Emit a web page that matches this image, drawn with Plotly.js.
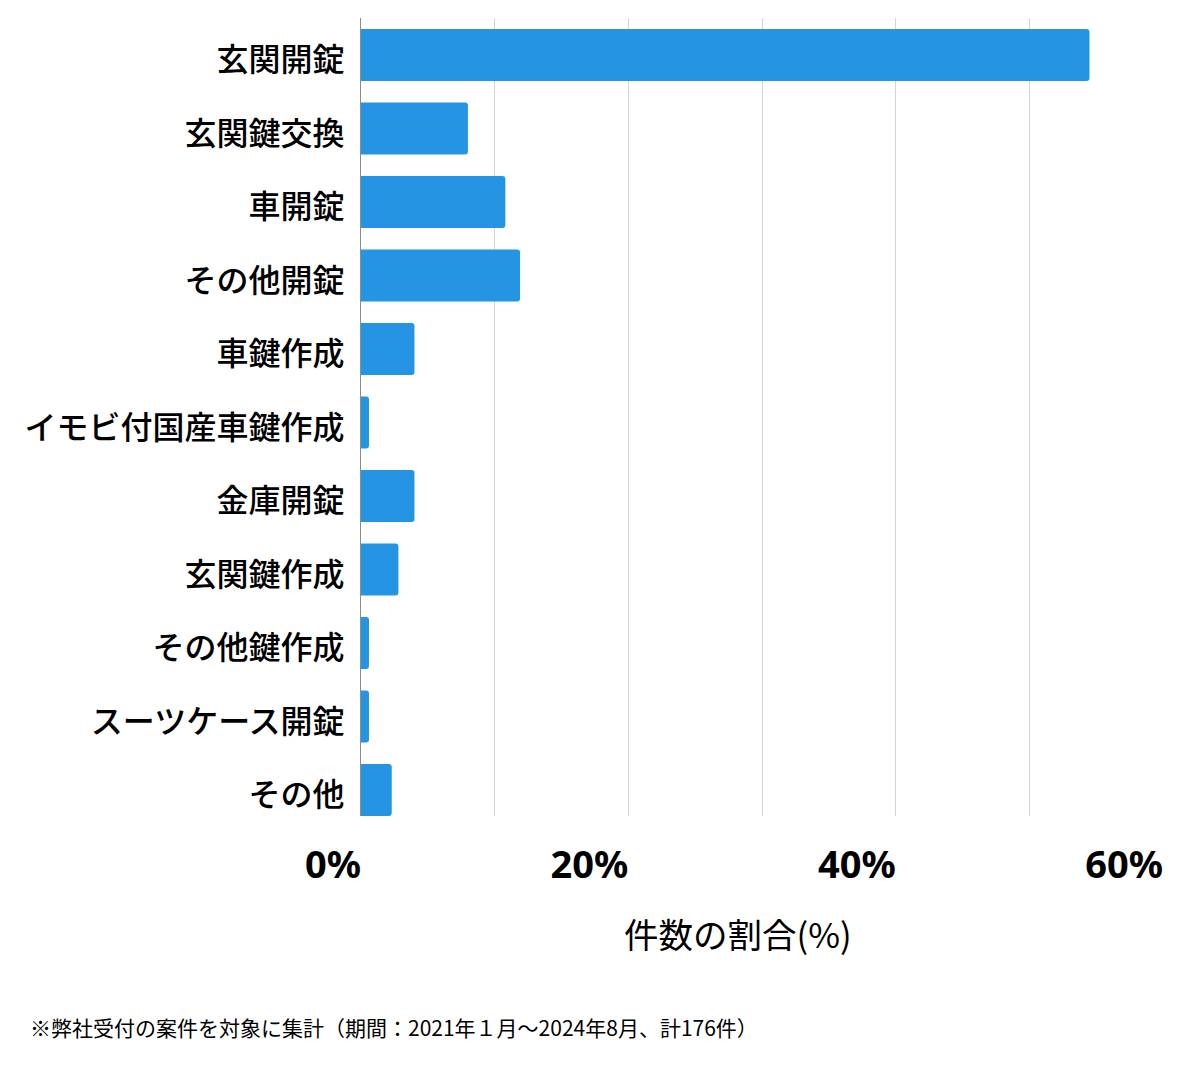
<!DOCTYPE html>
<html>
<head>
<meta charset="utf-8">
<script src="https://cdn.plot.ly/plotly-3.0.1.min.js"></script>
<style>
  body { margin: 0; background: #fff; }
  #myPlot { width: 1200px; height: 1069px; }
</style>
</head>
<body>
<div id="myPlot"></div>
<script>
// 件数の割合 (%), 計176件
var categories = ["玄関開錠", "玄関鍵交換", "車開錠", "その他開錠", "車鍵作成",
  "イモビ付国産車鍵作成", "金庫開錠", "玄関鍵作成", "その他鍵作成", "スーツケース開錠", "その他"];
var shares = [54.5, 8.0, 10.8, 11.9, 4.0, 0.6, 4.0, 2.8, 0.6, 0.6, 2.3];
var tickVals = [0, 20, 40, 60];
var tickText = ["0%", "20%", "40%", "60%"];
var note = "※弊社受付の案件を対象に集計（期間：2021年１月〜2024年8月、計176件）";

var jp = '"Noto Sans CJK JP", "Noto Sans", sans-serif';

var data = [{
  type: "bar",
  orientation: "h",
  x: shares,
  y: categories,
  width: 0.71,
  marker: { color: "#2594e3", cornerradius: 3 },
  hoverinfo: "x+y"
}];

var layout = {
  width: 1200,
  height: 1069,
  margin: { l: 361, r: 37, t: 18, b: 253 },
  paper_bgcolor: "#fff",
  plot_bgcolor: "#fff",
  showlegend: false,
  font: { family: jp, color: "#000" },
  xaxis: {
    range: [0, 60],
    tickvals: tickVals,
    ticktext: tickText,
    ticklabelposition: "outside left",
    ticklabelstandoff: 23,
    ticks: "",
    tickfont: { family: '"Noto Sans", sans-serif', size: 38, color: "#000", weight: "bold" },
    showgrid: false,
    zeroline: false,
    fixedrange: true
  },
  // grid every 10% (labels only every 20%)
  xaxis2: {
    overlaying: "x",
    range: [0, 60],
    dtick: 10,
    showgrid: true,
    gridcolor: "#d4d4d4",
    gridwidth: 1,
    showticklabels: false,
    zeroline: false
  },
  yaxis: {
    type: "category",
    range: [10.354, -0.503],
    ticks: "",
    ticklabelstandoff: 9,
    ticklabelshift: -5,
    tickfont: { family: jp, size: 32, color: "#000", weight: 500 },
    showgrid: false,
    showline: true,
    linecolor: "#8c8c8c",
    linewidth: 1,
    fixedrange: true
  },
  annotations: [
    {
      text: "件数の割合(%)",
      xref: "paper", yref: "paper",
      x: (738 - 361) / 802, y: -0.147,
      xanchor: "center", yanchor: "middle",
      showarrow: false,
      font: { family: jp, size: 34.5, color: "#000" }
    },
    {
      text: note,
      xref: "paper", yref: "paper",
      x: (28 - 361) / 802, y: -0.264,
      xanchor: "left", yanchor: "middle",
      showarrow: false,
      font: { family: jp, size: 21, color: "#000" }
    }
  ]
};

// put an empty trace on xaxis2 so the 10% grid is drawn under the bars
data.unshift({ type: "scatter", x: [0, 60], y: [categories[0], categories[0]], xaxis: "x2", mode: "none", hoverinfo: "skip" });

Plotly.newPlot("myPlot", data, layout, { displayModeBar: false, staticPlot: true });
</script>
</body>
</html>
